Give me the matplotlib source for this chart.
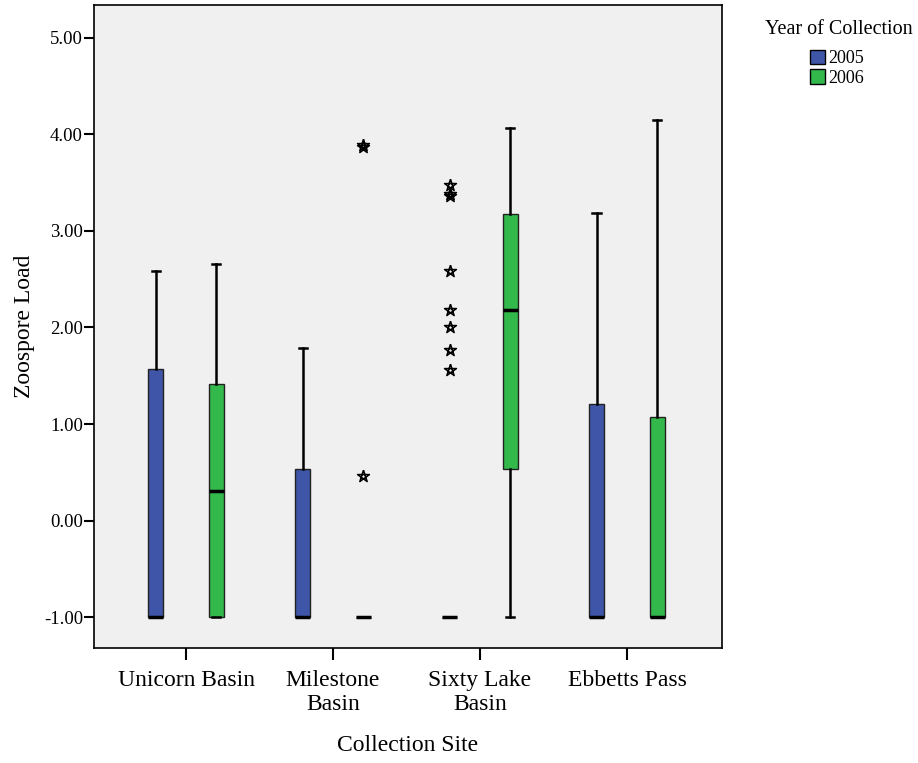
import numpy as np
import matplotlib.pyplot as plt
from matplotlib.path import Path
from matplotlib.patches import Patch

plt.rcParams['font.family'] = ['Liberation Serif', 'DejaVu Serif']

sites = ['Unicorn Basin', 'Milestone\nBasin', 'Sixty Lake\nBasin', 'Ebbetts Pass']
years = ['2005', '2006']
colors = {'2005': '#3e55a8', '2006': '#33b84b'}

# box stats: (whislo, q1, med, q3, whishi)
stats_2005 = [(-1.00, -1.00, -1.00, 1.57, 2.58),
              (-1.00, -1.00, -1.00, 0.53, 1.79),
              (-1.00, -1.00, -1.00, -1.00, -1.00),
              (-1.00, -1.00, -1.00, 1.21, 3.19)]
stats_2006 = [(-1.00, -1.00, 0.31, 1.41, 2.66),
              (-1.00, -1.00, -1.00, -1.00, -1.00),
              (-1.00, 0.53, 2.18, 3.18, 4.07),
              (-1.00, -1.00, -1.00, 1.07, 4.15)]
outliers_2005 = [[], [], [3.48, 3.38, 3.36, 2.59, 2.18, 2.01, 1.77, 1.56], []]
outliers_2006 = [[], [3.89, 3.87, 0.46], [], []]

# pentagram drawn with lines, like the SPSS extreme-value marker
ang = np.deg2rad(90 + 72 * np.array([0, 2, 4, 1, 3, 0]))
star = Path(np.column_stack([np.cos(ang), np.sin(ang)]))

fig = plt.figure(figsize=(9.18, 7.63), dpi=100)
ax = fig.add_axes([0.1024, 0.1507, 0.684, 0.8427])
ax.set_facecolor('#f0f0f0')

offset = 0.207
for yr, stats, outs, sign in [('2005', stats_2005, outliers_2005, -1),
                              ('2006', stats_2006, outliers_2006, 1)]:
    bx = []
    for (lo, q1, med, q3, hi), fl in zip(stats, outs):
        bx.append(dict(whislo=lo, q1=q1, med=med, q3=q3, whishi=hi, fliers=fl))
    pos = np.arange(len(sites)) + sign * offset
    ax.bxp(bx, positions=pos, widths=0.1, capwidths=0.055, patch_artist=True,
           showfliers=True,
           boxprops=dict(facecolor=colors[yr], edgecolor='#222222', linewidth=1.0),
           medianprops=dict(color='black', linewidth=2.5, solid_capstyle='butt'),
           whiskerprops=dict(color='black', linewidth=1.8),
           capprops=dict(color='black', linewidth=1.8),
           flierprops=dict(marker=star, markersize=9, markerfacecolor='none',
                           markeredgecolor='black', markeredgewidth=1.1,
                           linestyle='none'))

ax.set_xlim(-0.626, 3.646)
ax.set_ylim(-1.32, 5.34)
ax.set_xticks(np.arange(len(sites)))
ax.set_xticklabels(sites, fontsize=17, linespacing=1.2)
ax.set_yticks(np.arange(-1, 6, 1))
ax.set_yticklabels([f'{v:.2f}' for v in np.arange(-1, 6, 1)], fontsize=13.5)
ax.tick_params(axis='x', length=8.5, width=1.5, pad=7.5)
ax.tick_params(axis='y', length=7, width=1.5, pad=1)
for s in ax.spines.values():
    s.set_linewidth(1.2)

ax.set_xlabel('Collection Site', fontsize=17, labelpad=14)
ax.set_ylabel('Zoospore Load', fontsize=17, labelpad=6)

# legend title placed separately to get the wider gap above the entries
fig.text(839 / 918, 1 - 34 / 763, 'Year of Collection', fontsize=14.5,
         ha='center', va='baseline')
handles = [Patch(facecolor=colors[y], edgecolor='black', linewidth=1.0, label=y)
           for y in years]
leg = fig.legend(handles=handles, loc='upper center',
                 bbox_to_anchor=(837 / 918, 1 - 50 / 763),
                 frameon=False, fontsize=13,
                 handlelength=0.85, handleheight=0.85, handletextpad=0.2,
                 labelspacing=0.1, borderaxespad=0, borderpad=0)

fig.savefig('out.png', dpi=100)
